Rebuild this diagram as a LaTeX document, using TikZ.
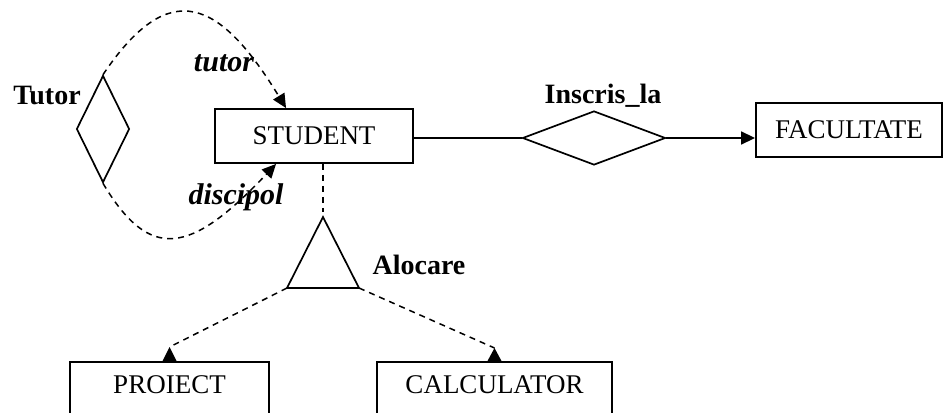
\documentclass[tikz,border=0pt]{standalone}
\usepackage{fontspec}
\setmainfont{Liberation Serif}
\usepackage{tikz}
\usetikzlibrary{arrows.meta,shapes.geometric,calc}
\tikzset{
	entity/.style={draw, line width=1.9pt, font=\fontsize{27}{27}\selectfont, minimum height=54pt, inner sep=0pt},
	cutbox/.style={entity, anchor=north, minimum height=0pt, text height=20pt, text depth=45pt, inner ysep=12pt},
	relation/.style={draw, diamond, line width=1.7pt, inner sep=0pt},
	relname/.style={font=\fontsize{28}{28}\selectfont\bfseries},
	rolename/.style={font=\fontsize{30}{30}\selectfont\bfseries\itshape},
	dashlink/.style={line width=1.5pt, dash pattern=on 6pt off 5pt},
	headarrow/.style={-{Triangle[length=14pt,width=13pt]}},
}

\begin{document}
\begin{tikzpicture}[x=1pt,y=-1pt]
					% Page frame
					\clip (0,0) rectangle (944,412);
					% Entities
					\node[entity, minimum width=198pt] (stud) at (314,136) {STUDENT};
					\node[entity, minimum width=186pt] (fac) at (849,130) {FACULTATE};
					\node[cutbox, minimum width=199pt] (pro) at (169.5,361) {PROIECT};
					\node[cutbox, minimum width=235pt] (cal) at (494.5,361) {CALCULATOR};
					% Relations
					\node[relation, minimum width=53pt, minimum height=107pt] (tut) at (103,129) {};
					\node[relation, minimum width=143pt, minimum height=54pt] (ins) at (594,138) {};
					\coordinate (aloTop) at (323,217);
					\coordinate (aloLeft) at (287,288);
					\coordinate (aloRight) at (359,288);
					\draw[line width=1.7pt] (aloTop) -- (aloLeft) -- (aloRight) -- cycle;
					% Labels
					\node[relname] (tutLbl) at (47,96) {Tutor};
					\node[relname] (insLbl) at (603,96) {Inscris\_la};
					\node[relname] (aloLbl) at (419,265) {Alocare};
					\node[rolename] (tutorRole) at (224,63) {tutor};
					\node[rolename] (discRole) at (236,197) {discipol};
					% Links
					\draw[line width=1.7pt] (stud.east |- ins.west) -- (ins.west);
					\draw[line width=1.7pt, headarrow] (ins.east) -- (fac.west |- ins.east);
					\draw[dashlink, headarrow] (tut.north) .. controls (170,-25) and (220,0) .. ($(stud.north west)+(72,0)$);
					\draw[dashlink, headarrow] (tut.south) .. controls (150,262) and (190,255) .. ($(stud.south west)+(62,0)$);
					\draw[dashlink, shorten >=5pt] (stud.south -| aloTop) -- (aloTop);
					\draw[dashlink] (aloLeft) -- ($(pro.north)+(0,-14)$) coordinate (proTip);
					\draw[dashlink] (aloRight) -- ($(cal.north)+(0,-13)$) coordinate (calTip);
					\fill (proTip) -- ++(-7,14) -- ++(14,0) -- cycle;
					\fill (calTip) -- ++(-7,13) -- ++(14,0) -- cycle;
				\end{tikzpicture}
\end{document}
